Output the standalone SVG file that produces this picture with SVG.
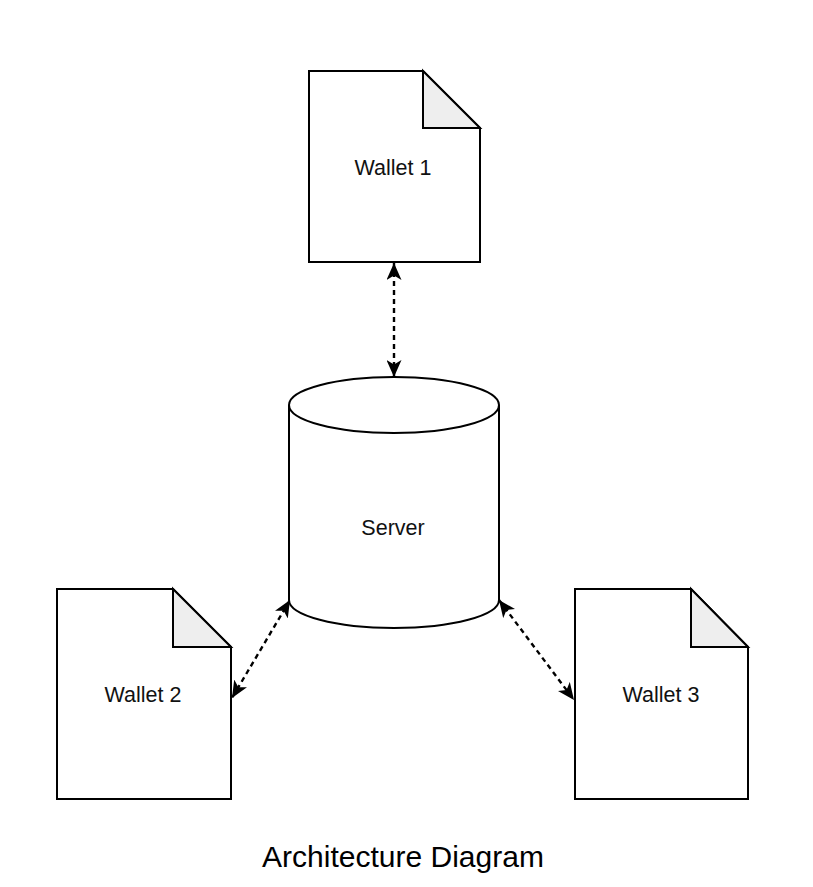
<svg xmlns="http://www.w3.org/2000/svg" width="813" height="887" viewBox="0 0 813 887">
  <defs>
    <style>
      .shape { fill: #ffffff; stroke: #000000; stroke-width: 2; stroke-linejoin: miter; }
      .fold { fill: #eeeeee; stroke: #000000; stroke-width: 2; stroke-linejoin: miter; }
      .label { font-family: "Liberation Sans", Arial, Helvetica, sans-serif; font-size: 21.5px; fill: #111111; text-anchor: middle; }
      .title { font-family: "Liberation Sans", Arial, Helvetica, sans-serif; font-size: 30px; fill: #000000; text-anchor: middle; }
      .conn { fill: none; stroke: #000000; stroke-width: 2.4; stroke-dasharray: 5 4; marker-start: url(#arrow); marker-end: url(#arrow); }
    </style>
    <marker id="arrow" viewBox="0 0 17 15" refX="17" refY="7.5" markerWidth="17" markerHeight="15" markerUnits="userSpaceOnUse" orient="auto-start-reverse">
      <path d="M0,0 L17,7.5 L0,15 L4.5,7.5 Z" fill="#000000" stroke="none"/>
    </marker>
  </defs>
  <rect width="813" height="887" fill="#ffffff"/>

  <g id="connectors">
    <line class="conn" x1="394" y1="263" x2="394" y2="377"/>
    <line class="conn" x1="290" y1="600" x2="232" y2="698"/>
    <line class="conn" x1="499" y1="600" x2="574" y2="700"/>
  </g>

  <g id="wallet1">
    <path class="shape" d="M309,71 H423 L480,128 V262 H309 Z"/>
    <path class="fold" d="M423,71 V128 H480 Z"/>
    <text class="label" x="393" y="175">Wallet 1</text>
  </g>

  <g id="server">
    <path class="shape" d="M289,405 A105,28 0 0 1 499,405 V600 A105,28 0 0 1 289,600 Z"/>
    <path class="shape" fill="none" d="M289,405 A105,28 0 0 0 499,405"/>
    <text class="label" x="393" y="535">Server</text>
  </g>

  <g id="wallet2">
    <path class="shape" d="M57,589 H173 L231,647 V799 H57 Z"/>
    <path class="fold" d="M173,589 V647 H231 Z"/>
    <text class="label" x="143" y="702">Wallet 2</text>
  </g>

  <g id="wallet3">
    <path class="shape" d="M575,589 H691 L748,647 V799 H575 Z"/>
    <path class="fold" d="M691,589 V647 H748 Z"/>
    <text class="label" x="661" y="702">Wallet 3</text>
  </g>

  <text id="title" class="title" x="403" y="867">Architecture Diagram</text>
</svg>
